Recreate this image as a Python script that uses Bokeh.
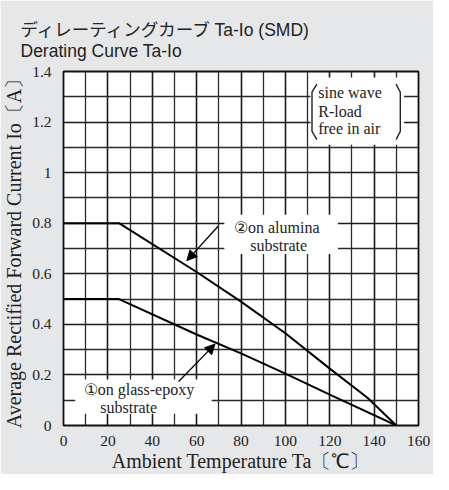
from bokeh.plotting import figure
from bokeh.models import (FixedTicker, Label, BoxAnnotation, Arrow, NormalHead,
                          CustomJSTickFormatter, Range1d)
from bokeh.embed import file_html
from bokeh.resources import INLINE

# ---- data ----
temp_alumina = [0, 25, 60, 80, 100, 120, 137, 150]
io_alumina = [0.8, 0.8, 0.607, 0.49, 0.365, 0.225, 0.11, 0.0]
temp_glass = [0, 25, 60, 80, 100, 120, 150]
io_glass = [0.5, 0.5, 0.36, 0.285, 0.205, 0.122, 0.0]

x_ticks = [0, 20, 40, 60, 80, 100, 120, 140, 160]
x_minor = [10, 30, 50, 70, 90, 110, 130, 150]
y_ticks = [0, 0.2, 0.4, 0.6, 0.8, 1.0, 1.2, 1.4]
y_minor = [0.1, 0.3, 0.5, 0.7, 0.9, 1.1, 1.3]

title_line1 = "ディレーティングカーブ Ta-Io (SMD)"
title_line2 = "Derating Curve Ta-Io"
x_label = "Ambient Temperature Ta〔℃〕"
y_label = "Average Rectified Forward Current Io〔A〕"

SERIF = "Liberation Serif"
SANS = "'Liberation Sans', 'Noto Sans CJK JP'"

p = figure(width=433, height=474, output_backend="svg", toolbar_location=None,
           x_range=Range1d(0, 160), y_range=Range1d(0, 1.4),
           min_border_left=57, min_border_right=15, min_border_top=71,
           min_border_bottom=42)
p.border_fill_color = "#e6e7e9"
p.background_fill_color = "white"
p.outline_line_color = "#111111"
p.outline_line_width = 1.8

# two-line title
p.title.text = title_line1 + "\n" + title_line2
p.title.text_font = SANS
p.title.text_font_size = "17.5px"
p.title.text_font_style = "normal"
p.title.text_line_height = 1.08
p.title.text_color = "#222222"
p.title.align = "left"
p.title.offset = -43
p.title.standoff = 20

# axes
p.xaxis.ticker = FixedTicker(ticks=x_ticks, minor_ticks=x_minor)
p.yaxis.ticker = FixedTicker(ticks=y_ticks, minor_ticks=y_minor)
p.yaxis.formatter = CustomJSTickFormatter(code="return String(Math.round(tick*10)/10)")
for ax in (p.xaxis, p.yaxis):
    ax.axis_line_color = None
    ax.major_tick_line_color = None
    ax.minor_tick_line_color = None
    ax.major_label_text_font = SERIF
    ax.major_label_text_font_size = "15.5px"
    ax.major_label_text_color = "#222222"
    ax.axis_label_text_font = SERIF
    ax.axis_label_text_font_style = "normal"
    ax.axis_label_text_font_size = "20px"
    ax.axis_label_text_color = "#222222"
p.xaxis.axis_label = x_label
p.yaxis.axis_label = y_label
p.xaxis.major_label_standoff = 4
p.xaxis.axis_label_standoff = 1
p.yaxis.major_label_standoff = 6
p.yaxis.axis_label_standoff = 4

# grid
for g in (p.xgrid, p.ygrid):
    g.grid_line_color = "#1a1a1a"
    g.grid_line_width = 1.6
    g.minor_grid_line_color = "#2a2a2a"
    g.minor_grid_line_width = 1.3

# data lines
p.line(temp_alumina, io_alumina, line_color="black", line_width=2)
p.line(temp_glass, io_glass, line_color="black", line_width=2)

# white label boxes (cover the grid)
for l, r, b, t in [(72.5, 123.7, 0.678, 0.833), (5.3, 66.8, 0.046, 0.182),
                   (111.3, 153.5, 1.11, 1.376)]:
    p.add_layout(BoxAnnotation(left=l, right=r, bottom=b, top=t,
                               fill_color="white", fill_alpha=1.0,
                               line_color=None))

# annotation texts
def lab(x, y, text, align="center", size="16px"):
    p.add_layout(Label(x=x, y=y, text=text, text_font=SERIF,
                       text_font_size=size, text_align=align,
                       text_baseline="middle", text_color="#222222"))

lab(96.1, 0.783, "②on alumina")
lab(97.0, 0.710, "substrate")
lab(34.0, 0.143, "①on glass-epoxy")
lab(29.4, 0.071, "substrate")
lab(114.8, 1.315, "sine wave", align="left")
lab(114.8, 1.243, "R-load", align="left")
lab(114.8, 1.173, "free in air", align="left")

# brackets around the conditions
br_left_x = [114.2, 112.0, 112.0, 114.2]
br_right_x = [149.9, 151.8, 151.8, 149.9]
br_y = [1.35, 1.318, 1.163, 1.131]
b1 = p.line(br_left_x, br_y, line_color="#222222", line_width=1.4)
b2 = p.line(br_right_x, br_y, line_color="#222222", line_width=1.4)
b1.level = "overlay"
b2.level = "overlay"

# arrows
for xs, ys, xe, ye in [(69.7, 0.788, 55.6, 0.652), (51.9, 0.174, 68.3, 0.322)]:
    p.add_layout(Arrow(end=NormalHead(size=10, fill_color="black", line_color="black"),
                       x_start=xs, y_start=ys, x_end=xe, y_end=ye,
                       line_color="black", line_width=1.3))

open("out.html", "w").write(file_html(p, INLINE))
